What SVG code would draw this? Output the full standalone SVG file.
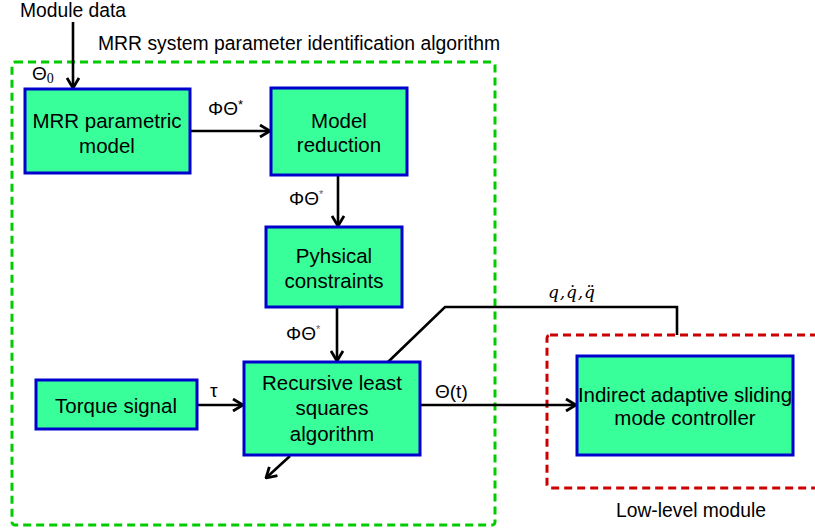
<svg xmlns="http://www.w3.org/2000/svg" width="815" height="531" viewBox="0 0 815 531">
<style>
.box{fill:#38FF9A;stroke:#0000CC;stroke-width:3}
.t{font-family:"Liberation Sans",Arial,sans-serif;font-size:20px;fill:#000}
.bt{font-family:"Liberation Sans",Arial,sans-serif;font-size:20.5px;fill:#000;text-anchor:middle}
.lbl{font-family:"Liberation Sans",Arial,sans-serif;font-size:19px;fill:#000}
.ln{fill:none;stroke:#000;stroke-width:2.6}
.arr{fill:none;stroke:#000;stroke-width:2.6;marker-end:url(#ah)}
</style>
<defs>
<marker id="ah" viewBox="0 0 12 14" refX="11" refY="7" markerWidth="12" markerHeight="14" markerUnits="userSpaceOnUse" orient="auto">
<path d="M1,1 L11,7 L1,13" fill="none" stroke="#000" stroke-width="2.8"/>
</marker>
</defs>
<rect width="815" height="531" fill="#fff"/>

<g id="frame-algorithm">
<rect x="12" y="62" width="483" height="463" rx="3" fill="none" stroke="#00CC00" stroke-width="3" stroke-dasharray="8 5"/>
<text class="t" x="98" y="50" textLength="402" lengthAdjust="spacingAndGlyphs" font-size="18">MRR system parameter identification algorithm</text>
</g>
<g id="frame-lowlevel">
<rect x="547" y="335" width="290" height="153" rx="3" fill="none" stroke="#CC0000" stroke-width="3" stroke-dasharray="8 5"/>
<text class="t" x="616" y="517" textLength="150" lengthAdjust="spacingAndGlyphs" font-size="18">Low-level module</text>
</g>

<g id="connectors">
<line class="arr" x1="73" y1="22" x2="73" y2="88"/>
<line class="arr" x1="190" y1="131" x2="270" y2="131"/>
<line class="arr" x1="338" y1="175" x2="338" y2="226"/>
<line class="arr" x1="337" y1="307" x2="337" y2="361"/>
<line class="arr" x1="197" y1="405" x2="243" y2="405"/>
<line class="arr" x1="420" y1="405" x2="576" y2="405"/>
<polyline class="ln" points="388,362 445,307 677,307 677,335"/>
<line class="arr" x1="290" y1="456" x2="266" y2="478"/>
<text class="lbl" x="208" y="115">ΦΘ<tspan font-size="13" dy="-6">*</tspan></text>
<text class="lbl" x="289" y="205">ΦΘ<tspan font-size="11" dy="-7" fill="#666">*</tspan></text>
<text class="lbl" x="286" y="340">ΦΘ<tspan font-size="11" dy="-7" fill="#666">*</tspan></text>
<text class="lbl" x="210" y="397">τ</text>
<text class="lbl" x="435" y="398">Θ(t)</text>
<text x="548" y="298" font-family="'DejaVu Serif','Liberation Serif',serif" font-style="italic" font-size="17" textLength="47" lengthAdjust="spacing">q,q̇,q̈</text>
<text class="lbl" x="32" y="80">Θ<tspan font-family="'Liberation Serif',serif" font-size="14" dy="3">0</tspan></text>
</g>

<g id="module-data">
<text class="t" x="20" y="17" textLength="106" lengthAdjust="spacingAndGlyphs" font-size="18">Module data</text>
</g>

<g id="node-mrr-model">
<rect class="box" x="25" y="89" width="165" height="84"/>
<text class="bt" x="107" y="128">MRR parametric</text>
<text class="bt" x="107" y="153">model</text>
</g>
<g id="node-model-reduction">
<rect class="box" x="271" y="88" width="136" height="87"/>
<text class="bt" x="339" y="128">Model</text>
<text class="bt" x="339" y="152">reduction</text>
</g>
<g id="node-physical-constraints">
<rect class="box" x="266" y="227" width="136" height="80"/>
<text class="bt" x="334" y="263">Pyhsical</text>
<text class="bt" x="334" y="288">constraints</text>
</g>
<g id="node-rls">
<rect class="box" x="244" y="362" width="176" height="93"/>
<text class="bt" x="332" y="390">Recursive least</text>
<text class="bt" x="332" y="415">squares</text>
<text class="bt" x="332" y="441">algorithm</text>
</g>
<g id="node-torque">
<rect class="box" x="36" y="380" width="161" height="49"/>
<text class="bt" x="116" y="413">Torque signal</text>
</g>
<g id="node-controller">
<rect class="box" x="577" y="356" width="216" height="99"/>
<text class="bt" x="685" y="402" font-size="19">Indirect adaptive sliding</text>
<text class="bt" x="685" y="425" font-size="19">mode controller</text>
</g>
</svg>
